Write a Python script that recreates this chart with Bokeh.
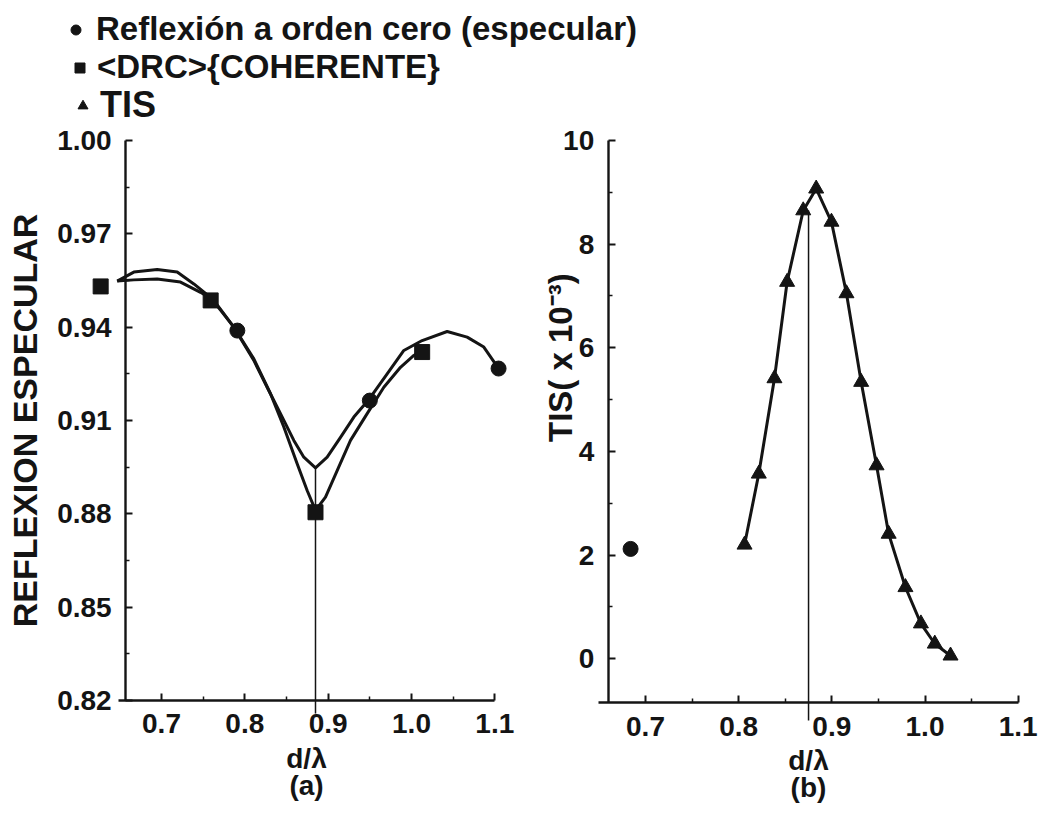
import math
from bokeh.plotting import figure
from bokeh.models import (Range1d, FixedTicker, Legend, LegendItem, Label,
                          NumeralTickFormatter, LinearAxis)
from bokeh.embed import file_html
from bokeh.resources import INLINE

FONT = "Liberation Sans"
INK = "#141414"

# ---- panel (a): specular reflection against d/lambda ----
refl_x = [0.791, 0.950, 1.1045]
refl_y = [0.9389, 0.9164, 0.9267]

drc_x = [0.627, 0.759, 0.8848, 1.0128]
drc_y = [0.9531, 0.9486, 0.8805, 0.9320]

refl_fit_x = [0.6468, 0.6668, 0.6948, 0.7188, 0.7388, 0.7588, 0.7868, 0.8108, 0.8268,
              0.8428, 0.8588, 0.8708, 0.8848, 0.8988, 0.9148, 0.9308, 0.9496, 0.9708,
              0.9908, 1.0128, 1.0428, 1.0668, 1.0868, 1.1048]
refl_fit_y = [0.9548, 0.9577, 0.9585, 0.9577, 0.9539, 0.9496, 0.9400, 0.9293, 0.9207,
              0.9122, 0.9036, 0.8982, 0.8948, 0.8982, 0.9046, 0.9111, 0.9170, 0.9250,
              0.9325, 0.9357, 0.9386, 0.9368, 0.9336, 0.9266]

drc_fit_x = [0.6468, 0.6668, 0.6948, 0.7228, 0.7468, 0.7628, 0.7868, 0.8108, 0.8308,
             0.8468, 0.8628, 0.8748, 0.8848, 0.8968, 0.9108, 0.9268, 0.9468, 0.9668,
             0.9868, 1.0028, 1.0188]
drc_fit_y = [0.9548, 0.9552, 0.9555, 0.9545, 0.9512, 0.9486, 0.9400, 0.9298, 0.9186,
             0.9079, 0.8961, 0.8875, 0.8811, 0.8854, 0.8939, 0.9036, 0.9122, 0.9207,
             0.9271, 0.9309, 0.9336]

# vertical marker at the reflection minimum
dip_a_x = [0.8848, 0.8848]
dip_a_y = [0.8948, 0.8158]

a_xticks = [0.7, 0.8, 0.9, 1.0, 1.1]
a_xminor = [0.75, 0.85, 0.95, 1.05]
a_yticks = [0.82, 0.85, 0.88, 0.91, 0.94, 0.97, 1.00]
a_yminor = [0.835, 0.865, 0.895, 0.925, 0.955, 0.985]

# ---- panel (b): total integrated scatter ----
tis_x = [0.8063, 0.8216, 0.8384, 0.8520, 0.8693, 0.8832, 0.8996, 0.9157, 0.9315,
         0.9480, 0.9610, 0.9790, 0.9956, 1.0105, 1.0274]
tis_y = [2.20, 3.57, 5.41, 7.27, 8.65, 9.07, 8.43, 7.05, 5.34,
         3.73, 2.41, 1.38, 0.68, 0.29, 0.06]

refl_b_x = [0.684]
refl_b_y = [2.12]

peak_b_x = [0.875, 0.875]
peak_b_y = [8.65, -1.19]

b_xticks = [0.7, 0.8, 0.9, 1.0, 1.1]
b_xminor = [0.75, 0.85, 0.95, 1.05]
b_yticks = [0, 2, 4, 6, 8, 10]
b_yminor = [1, 3, 5, 7, 9]

# one canvas holds both panels; panel (b) uses its own pair of ranges
p = figure(width=1040, height=817,
           x_range=Range1d(0.50679, 1.75483), y_range=Range1d(0.78239, 1.04500),
           output_backend="svg", toolbar_location=None,
           min_border_left=0, min_border_right=0, min_border_top=0, min_border_bottom=0)
p.extra_x_ranges = {"xb": Range1d(0.00772, 1.12396)}
p.extra_y_ranges = {"yb": Range1d(-3.0619, 12.7011)}
p.outline_line_color = None
p.background_fill_color = "white"
p.border_fill_color = "white"
p.xgrid.visible = False
p.ygrid.visible = False


def style_axis(ax, bounds, loc, ticks, minor, fmt):
    ax.fixed_location = loc
    ax.bounds = bounds
    ax.ticker = FixedTicker(ticks=ticks, minor_ticks=minor)
    ax.formatter = NumeralTickFormatter(format=fmt)
    ax.axis_line_color = INK
    ax.axis_line_width = 2.4
    ax.major_tick_in = 7
    ax.major_tick_out = 0
    ax.minor_tick_in = 4
    ax.minor_tick_out = 0
    ax.major_tick_line_color = INK
    ax.minor_tick_line_color = INK
    ax.major_tick_line_width = 2
    ax.minor_tick_line_width = 1.5
    ax.major_label_text_font = FONT
    ax.major_label_text_font_size = "28px"
    ax.major_label_text_font_style = "bold"
    ax.major_label_text_color = INK
    ax.major_label_standoff = 14
    ax.axis_label_text_font = FONT
    ax.axis_label_text_font_style = "bold"
    ax.axis_label_text_color = INK


# axes of panel (a)
xa = p.xaxis[0]
ya = p.yaxis[0]
style_axis(xa, (0.648, 1.1), 0.82, a_xticks, a_xminor, "0.0")
style_axis(ya, (0.82, 1.00), 0.657, a_yticks, a_yminor, "0.00")
xa.axis_label = "d/λ\n(a)"
xa.axis_label_text_font_size = "28px"
xa.axis_label_text_line_height = 0.9
xa.axis_label_standoff = 6
ya.axis_label = "REFLEXION ESPECULAR"
ya.axis_label_text_font_size = "34px"
ya.axis_label_standoff = 10

# axes of panel (b)
xb = LinearAxis(x_range_name="xb", y_range_name="yb")
yb = LinearAxis(x_range_name="xb", y_range_name="yb")
style_axis(xb, (0.6496, 1.1), -0.85, b_xticks, b_xminor, "0.0")
style_axis(yb, (-0.85, 10), 0.660, b_yticks, b_yminor, "0")
xb.axis_label = "d/λ\n(b)"
xb.axis_label_text_font_size = "28px"
xb.axis_label_text_line_height = 0.9
xb.axis_label_standoff = 6
p.add_layout(xb, "below")
p.add_layout(yb, "left")

# panel (a) marks
p.line(refl_fit_x, refl_fit_y, line_color=INK, line_width=3, line_join="round")
p.line(drc_fit_x, drc_fit_y, line_color=INK, line_width=3, line_join="round")
p.line(dip_a_x, dip_a_y, line_color=INK, line_width=1.5)
r_circ = p.scatter(refl_x, refl_y, marker="circle", size=15, fill_color=INK, line_color=INK)
r_sq = p.scatter(drc_x, drc_y, marker="square", size=15, fill_color=INK, line_color=INK)

# panel (b) marks
p.line(peak_b_x, peak_b_y, line_color=INK, line_width=1.5, x_range_name="xb", y_range_name="yb")
p.line(tis_x, tis_y, line_color=INK, line_width=3, line_join="round",
       x_range_name="xb", y_range_name="yb")
r_tri = p.scatter(tis_x, tis_y, marker="triangle", size=15, fill_color=INK, line_color=INK,
                  x_range_name="xb", y_range_name="yb")
p.scatter(refl_b_x, refl_b_y, marker="circle", size=15, fill_color=INK, line_color=INK,
          x_range_name="xb", y_range_name="yb")

p.add_layout(Label(x=0.6088, y=5.81, text="TIS( x 10⁻³)", angle=math.pi / 2,
                   x_range_name="xb", y_range_name="yb",
                   text_align="center", text_baseline="middle", text_font=FONT,
                   text_font_size="33px", text_font_style="bold", text_color=INK))


# key, one entry per line
def key(label, renderer, loc, standoff, size):
    return Legend(items=[LegendItem(label=label, renderers=[renderer])],
                  location=loc, margin=0, padding=0, glyph_width=25, glyph_height=25,
                  label_standoff=standoff, spacing=0, label_text_font=FONT,
                  label_text_font_size=size, label_text_font_style="bold",
                  label_text_color=INK, border_line_color=None, background_fill_alpha=0)


p.add_layout(key("Reflexión a orden cero (especular)", r_circ, (63, 769), 8, "33px"))
p.add_layout(key("<DRC>{COHERENTE}", r_sq, (67, 731), 5, "33px"))
p.add_layout(key("TIS", r_tri, (70, 691), 5, "36px"))

open("out.html", "w").write(file_html(p, INLINE))
